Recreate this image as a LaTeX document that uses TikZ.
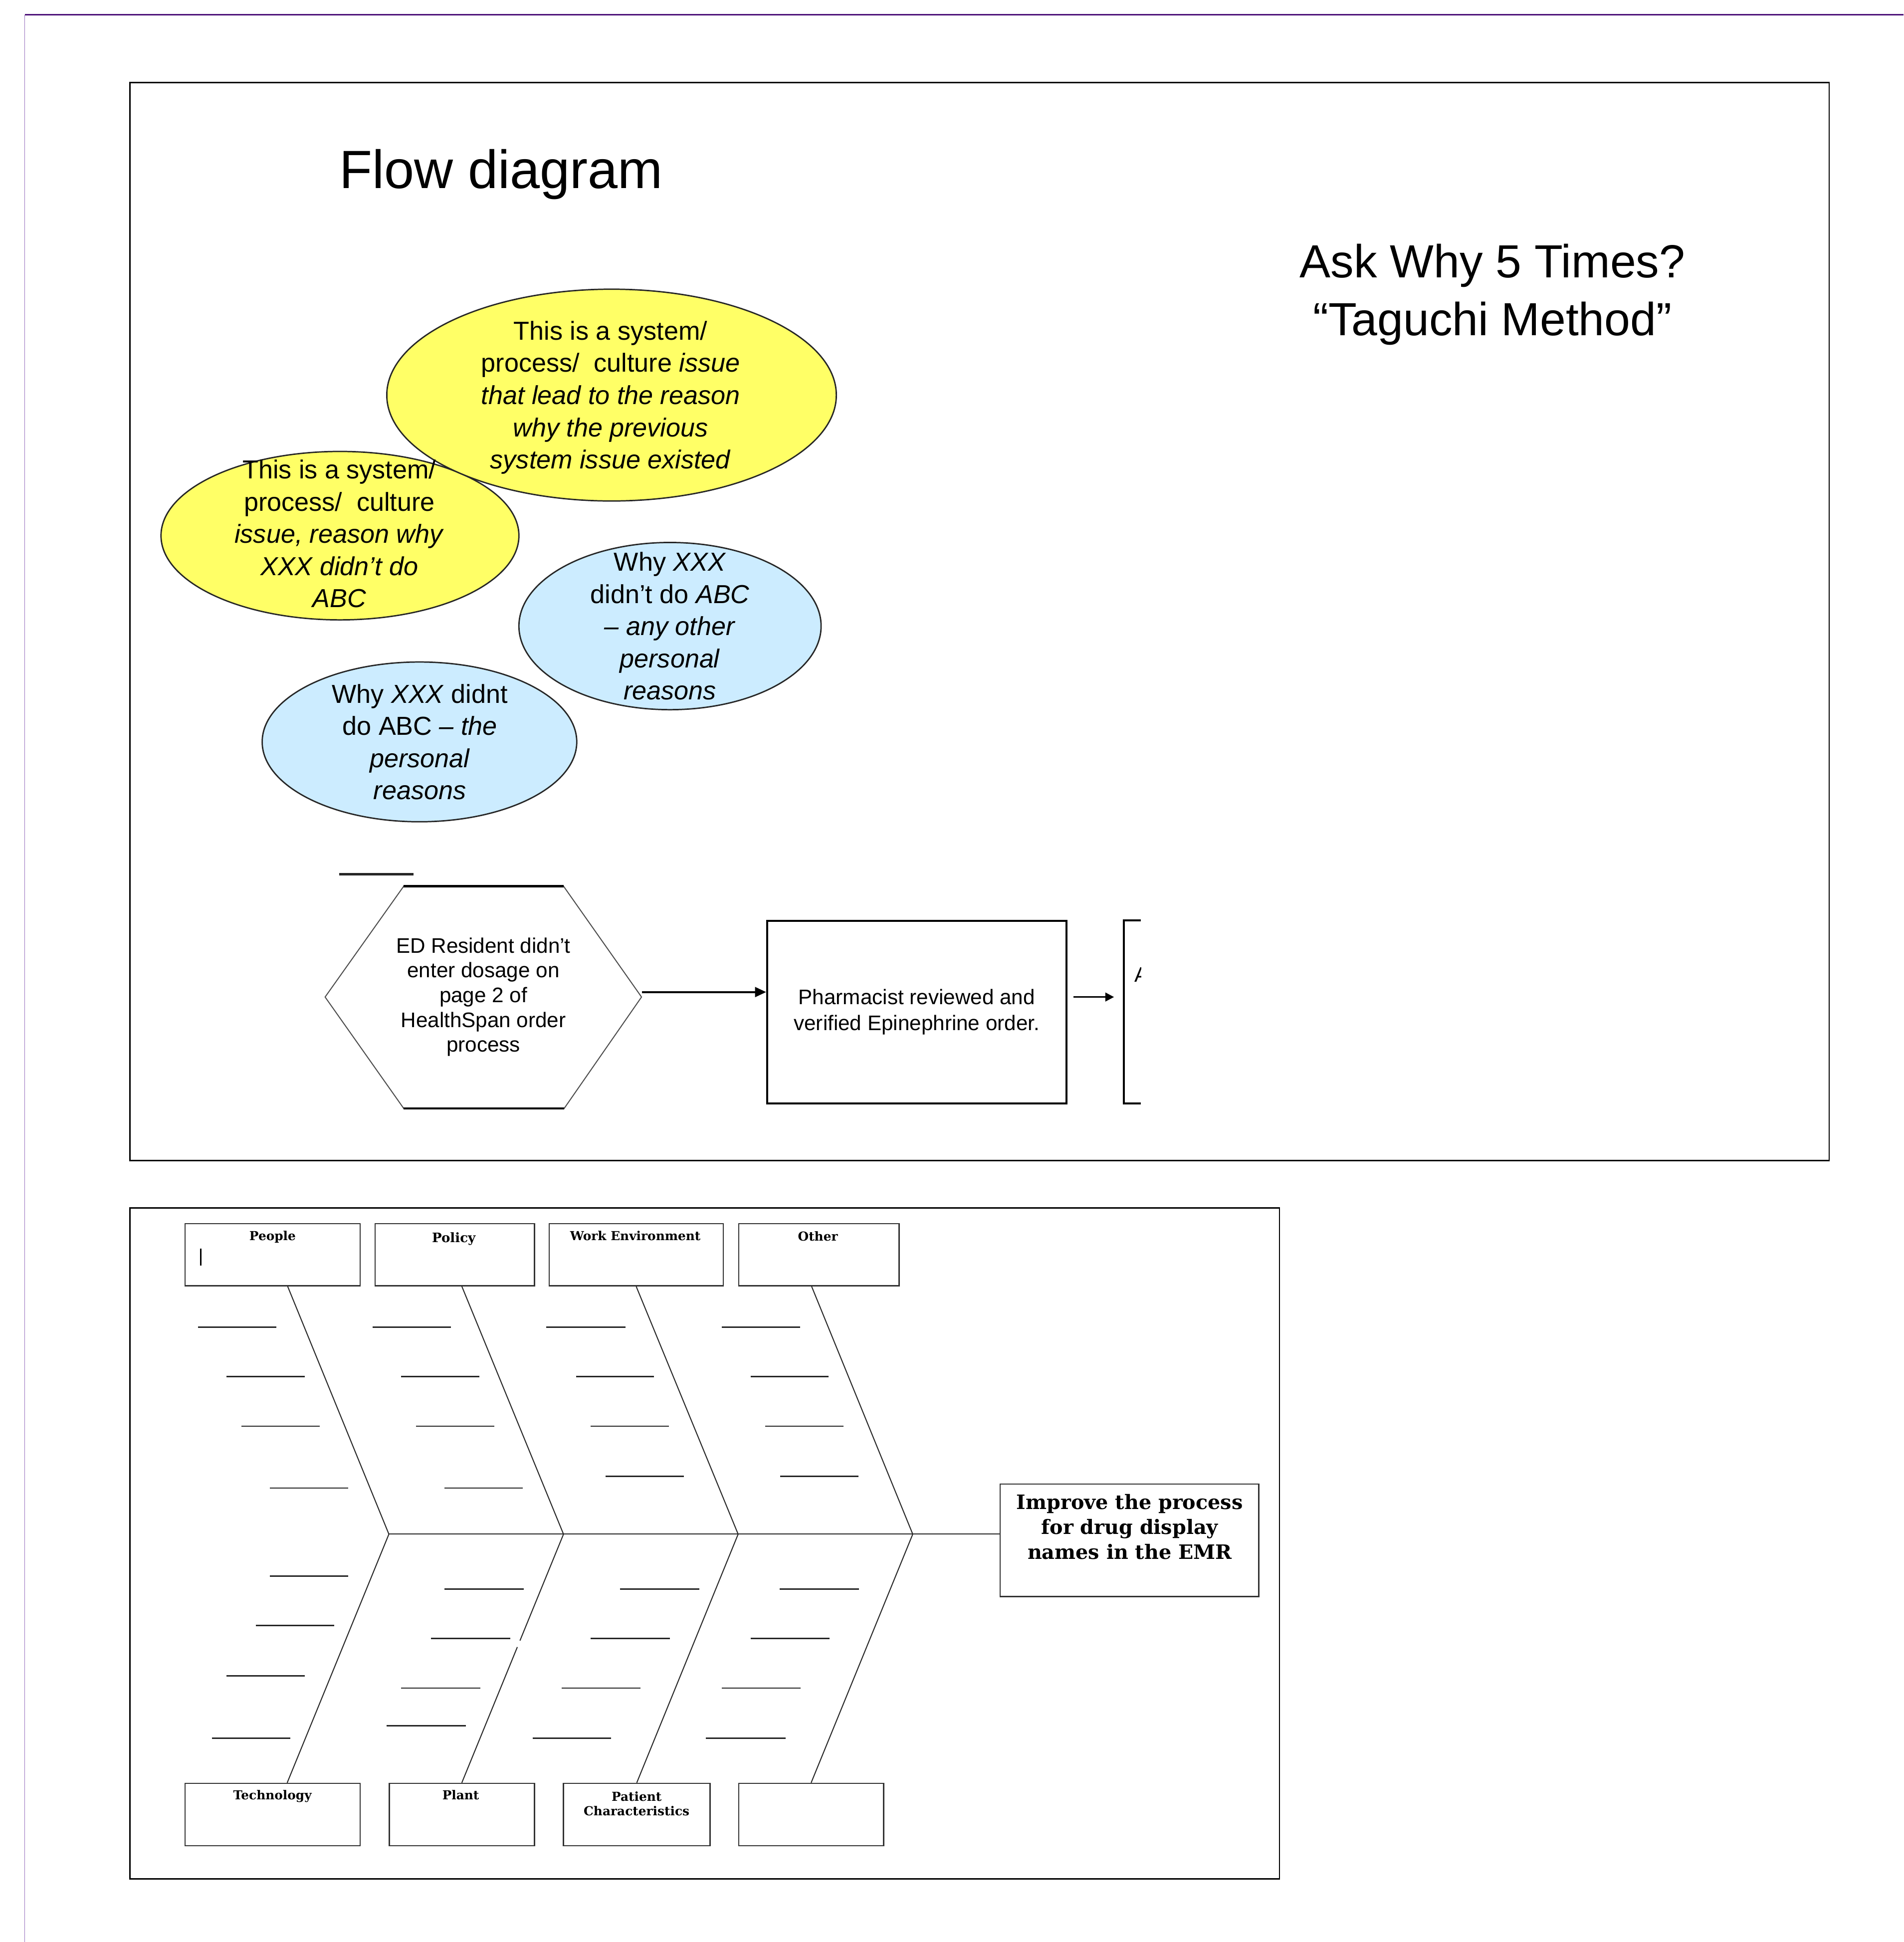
\documentclass[tikz,border=0pt]{standalone}
\usepackage{fontspec}
\setmainfont{Liberation Sans}
\newfontfamily\fishfont{DejaVu Serif}
\usetikzlibrary{arrows.meta,shapes.geometric}
\definecolor{yfill}{RGB}{255,255,102}
\definecolor{bfill}{RGB}{204,236,255}
\definecolor{framepurple}{RGB}{78,20,122}
\definecolor{framelight}{RGB}{150,112,190}
\newcommand\mlines[1]{\vtop{\let\\\cr\halign{\hfil##\hfil\cr#1\crcr}}}
\tikzset{
  ell/.style={ellipse, draw=black!85, line width=1.1pt, inner sep=0pt},
  elltxt/.style={font=\fontsize{21}{26}\selectfont, inner sep=0pt},
  thickbox/.style={draw, line width=1.6pt, inner sep=0pt},
  catbox/.style={draw=black!80, line width=1pt, inner sep=0pt, minimum height=50.2pt},
  catlbl/.style={font=\fishfont\bfseries\fontsize{10}{11.7}\selectfont, inner sep=0pt, anchor=base},
  bone/.style={draw=black!85, line width=0.8pt},
  tick/.style={draw=black!85, line width=1.1pt},
  arr/.style={-{Triangle[length=9pt,width=8pt]}, line width=1.5pt},
  arrsmall/.style={-{Triangle[length=7pt,width=7pt]}, line width=1.3pt},
}
\begin{document}
\begin{tikzpicture}[x=1pt,y=-1pt]
\useasboundingbox (0,0) rectangle (1537,1568);
\fill[white] (0,0) rectangle (1537,1568);

% page frame
\draw[framelight, line width=0.5pt] (20,12) -- (20,1568);
\draw[framepurple, line width=1.2pt] (20,12) -- (1537,12);

% upper panel
\draw[line width=1pt] (105,66.7) rectangle (1477,937);
\node[font=\fontsize{43.5}{50}\selectfont, anchor=base west, inner sep=0pt] (title) at (274,152) {Flow diagram};
\node[font=\fontsize{37.5}{47}\selectfont, anchor=base, inner sep=0pt] (ask) at (1205,224) {\mlines{Ask Why 5 Times?\\“Taguchi Method”}};

% ellipses
\node[ell, fill=yfill, minimum width=289pt, minimum height=136pt] (e2) at (274.5,432.5) {};
\node[ell, fill=yfill, minimum width=363pt, minimum height=171pt] (e1) at (493.8,319) {};
\node[ell, fill=bfill, minimum width=254pt, minimum height=129pt] (e4) at (338.7,599) {};
\node[ell, fill=bfill, minimum width=244pt, minimum height=135pt] (e3) at (541,505.5) {};

\node[elltxt] (t1) at (493,321) {\mlines{This is a system/\\process/\ \ culture \textit{issue}\\\textit{that lead to the reason}\\\textit{why the previous}\\\textit{system issue existed}}};
\node[elltxt] (t2) at (274,431) {\mlines{This is a system/\\process/\ \ culture\\\textit{issue, reason why}\\\textit{XXX didn't do}\\\textit{ABC}}};
\node[elltxt] (t3) at (541,505.5) {\mlines{Why \textit{XXX}\\didn't do \textit{ABC}\\\textit{– any other}\\\textit{personal}\\\textit{reasons}}};
\node[elltxt] (t4) at (339,599) {\mlines{Why \textit{XXX} didnt\\do ABC \textit{– the}\\\textit{personal}\\\textit{reasons}}};

% flow row
\draw[black!85, line width=1.8pt] (274,705.8) -- (334,705.8);
\draw[black!70, line width=0.8pt] (262.5,805) -- (326,715.5) -- (455,715.5) -- (518,805) -- (455.5,895) -- (326,895) -- cycle;
\draw[line width=1.8pt] (326,715.5) -- (455,715.5) (326,895) -- (455.5,895);
\node[inner sep=0pt, minimum width=255.5pt, minimum height=179.5pt, font=\fontsize{17}{20}\selectfont] (hex) at (390.3,805) {\mlines{ED Resident didn't\\enter dosage on\\page 2 of\\HealthSpan order\\process}};
\node[thickbox, minimum width=241.6pt, minimum height=147.7pt, font=\fontsize{17}{21}\selectfont] (pharm) at (740.2,817.2) {\mlines{Pharmacist reviewed and\\verified Epinephrine order.}};
\draw[arr] ([yshift=4pt]hex.east) -- ([yshift=4pt]hex.east -| pharm.west);
\coordinate (nxt) at (907.5,805);
\draw[line width=1.6pt] (921,743.3) -- (907.5,743.3) -- (907.5,891) -- (921,891);
\draw[arrsmall] ([xshift=5pt,yshift=12.2pt]pharm.east) -- ([xshift=-8pt]nxt);
\begin{scope}
  \clip (909,740) rectangle (921.5,895);
  \node[font=\fontsize{17}{20}\selectfont, anchor=base west, inner sep=0pt] (cutA) at (916,793) {A};
\end{scope}

% lower panel (fishbone)
\draw[line width=1pt] (105,975.4) rectangle (1033,1517);

\node[catbox, minimum width=141.4pt] (people) at (220.1,1013.1) {};
\node[catbox, minimum width=128.7pt] (policy) at (367.15,1013.1) {};
\node[catbox, minimum width=140.6pt] (work) at (513.7,1013.1) {};
\node[catbox, minimum width=129.5pt] (other) at (661.15,1013.1) {};
\node[catbox, minimum width=141.4pt, minimum height=50.4pt] (tech) at (220.1,1465.1) {};
\node[catbox, minimum width=117.2pt, minimum height=50.4pt] (plant) at (372.9,1465.1) {};
\node[catbox, minimum width=118.3pt, minimum height=50.4pt] (patient) at (514.15,1465.1) {};
\node[catbox, minimum width=117.1pt, minimum height=50.4pt] (empty) at (654.95,1465.1) {};

\node[catlbl] (peoplelbl) at (220.1,1001.6) {People};
\node[catlbl, font=\fishfont\bfseries\fontsize{10.5}{12}\selectfont] (policylbl) at (366.4,1003) {Policy};
\node[catlbl] (worklbl) at (513,1001.6) {Work Environment};
\node[catlbl] (otherlbl) at (660.4,1002) {Other};
\node[catlbl] (techlbl) at (220,1453) {Technology};
\node[catlbl] (plantlbl) at (372,1453) {Plant};
\node[catlbl] (patientlbl) at (514,1454) {\mlines{Patient\\Characteristics}};
\draw[line width=1.2pt] (162,1008) -- (162,1022);

\node[draw=black!80, line width=1pt, minimum width=208.8pt, minimum height=90.7pt, inner sep=0pt] (goal) at (911.9,1243.65) {};
\node[font=\fishfont\bfseries\fontsize{16}{20}\selectfont, anchor=base, inner sep=0pt] (goaltxt) at (912.2,1218.7) {\mlines{Improve the process\\for drug display\\names in the EMR}};

\coordinate (a1) at (314,1238.7);
\coordinate (a2) at (455,1238.7);
\coordinate (a3) at (596,1238.7);
\coordinate (a4) at (737,1238.7);
\draw[bone] ([xshift=12.2pt]people.south) -- (a1) -- ([xshift=11.8pt]tech.north);
\draw[bone] ([xshift=5.8pt]policy.south) -- (a2) -- (plant.north);
\draw[bone] (work.south) -- (a3) -- (patient.north);
\draw[bone] ([xshift=-5.8pt]other.south) -- (a4) -- (empty.north);
\draw[bone] (a1) -- (a1 -| goal.west);
\path (a2) -- (plant.north) coordinate[pos=0.4285] (g1) coordinate[pos=0.454] (g2);
\draw[white, line width=2pt] (g1) -- (g2);

% ticks
\foreach \xa/\xb/\yy in {160/223/1071.5, 183/246/1111.5, 195/258/1151.5, 218/281/1201.5,
  301/364/1071.5, 324/387/1111.5, 336/399/1151.5, 359/422/1201.5,
  441/505/1071.5, 465/528/1111.5, 477/540/1151.5, 489/552/1192,
  583/646/1071.5, 606/669/1111.5, 618/681/1151.5, 630/693/1192,
  218/281/1272.5, 206.5/270/1312.5, 183/246/1353, 171/234.5/1403.5,
  359/423/1283, 348/412/1323, 324/388/1363, 312/376/1393.5,
  500.5/564.5/1283, 477/541/1323, 453.5/517/1363, 430/493.5/1403.5,
  629.5/693.5/1283, 606/670/1323, 583/646.5/1363, 570/634.5/1403.5}
  {\draw[tick] (\xa,\yy) -- (\xb,\yy);}
\end{tikzpicture}
\end{document}
